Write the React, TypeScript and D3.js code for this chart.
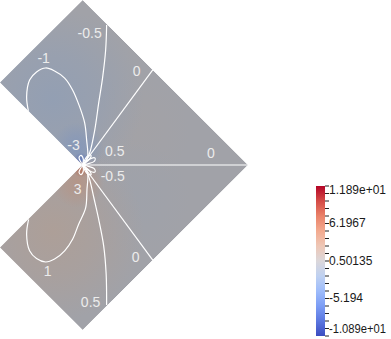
import React from 'react';
import * as d3 from 'd3';

// L-shaped domain, corner at (0,0), data units
const domainOutline: [number, number][] = [
  [0, 1], [1, 0], [0, -1], [-0.5, -0.5], [0, 0], [-0.5, 0.5],
];

// contour lines (data coords)
const zeroUpper: [number, number][] = [[0, 0], [0.424, 0.576]];
const zeroMiddle: [number, number][] = [[0, 0], [1, 0]];
const zeroLower: [number, number][] = [[0, 0], [0.424, -0.576]];
const negHalfUpper: [number, number][] = [
  [0.012, 0.012], [0.042, 0.073], [0.073, 0.212], [0.097, 0.376], [0.121, 0.533], [0.139, 0.697], [0.145, 0.848],
];
const posHalfLower: [number, number][] = [
  [0.012, -0.012], [0.04, -0.08], [0.068, -0.2], [0.097, -0.33], [0.127, -0.49], [0.142, -0.66], [0.145, -0.848],
];
const negOneLoop: [number, number][] = [
  [-0.327, 0.321], [-0.339, 0.412], [-0.321, 0.515], [-0.279, 0.564], [-0.224, 0.588], [-0.17, 0.57],
  [-0.109, 0.527], [-0.061, 0.455], [-0.018, 0.352], [0.012, 0.255], [0.024, 0.152], [0.03, 0.048], [0.01, 0.005],
];
const posOneLoop: [number, number][] = [
  [-0.327, -0.33], [-0.339, -0.42], [-0.321, -0.52], [-0.279, -0.567], [-0.224, -0.588], [-0.17, -0.57],
  [-0.109, -0.52], [-0.061, -0.45], [-0.025, -0.36], [0.018, -0.26], [0.026, -0.15], [0.03, -0.05], [0.01, -0.005],
];
const petalPosHalf: [number, number][] = [[0, 0], [0.04, 0.035], [0.075, 0.042], [0.07, 0.022], [0.03, 0.007], [0, 0]];
const petalNegHalf: [number, number][] = [[0, 0], [0.04, -0.035], [0.075, -0.042], [0.07, -0.022], [0.03, -0.007], [0, 0]];
const petalNegSteep: [number, number][] = [[0, 0], [0.025, 0.05], [0.05, 0.06], [0.045, 0.04], [0, 0]];
const petalPosSteep: [number, number][] = [[0, 0], [0.025, -0.05], [0.05, -0.06], [0.045, -0.04], [0, 0]];
const negThreeLoop: [number, number][] = [[0, 0], [-0.012, 0.02], [-0.022, 0.045], [-0.01, 0.058], [0.004, 0.035], [0, 0]];
const posThreeLoop: [number, number][] = [[0, 0], [-0.012, -0.02], [-0.022, -0.045], [-0.01, -0.058], [0.004, -0.035], [0, 0]];

const contourLines = [
  zeroUpper, zeroMiddle, zeroLower, negHalfUpper, posHalfLower, negOneLoop, posOneLoop,
  petalPosHalf, petalNegHalf, petalNegSteep, petalPosSteep, negThreeLoop, posThreeLoop,
];

const contourLabels = [
  { text: '-0.5', x: 0.042, y: 0.8 },
  { text: '-1', x: -0.236, y: 0.648 },
  { text: '0', x: 0.327, y: 0.57 },
  { text: '-3', x: -0.055, y: 0.121 },
  { text: '0.5', x: 0.194, y: 0.085 },
  { text: '0', x: 0.776, y: 0.073 },
  { text: '-0.5', x: 0.182, y: -0.067 },
  { text: '3', x: -0.03, y: -0.145 },
  { text: '0', x: 0.321, y: -0.558 },
  { text: '1', x: -0.212, y: -0.642 },
  { text: '0.5', x: 0.048, y: -0.83 },
];

// rough field samples (value around a spot)
const fieldSamples = [
  { x: 0.3, y: 0.2, value: 0.25, r: 0.35 },
  { x: 0.3, y: -0.2, value: -0.25, r: 0.35 },
  { x: -0.18, y: 0.4, value: -1.5, r: 0.55 },
  { x: -0.18, y: -0.4, value: 1.5, r: 0.55 },
  { x: -0.03, y: 0.1, value: -2.8, r: 0.16 },
  { x: -0.03, y: -0.1, value: 2.8, r: 0.16 },
  { x: -0.01, y: 0.025, value: -6, r: 0.05 },
  { x: -0.01, y: -0.025, value: 6, r: 0.05 },
];

const rangeMin = -10.89;
const rangeMax = 11.89;
const barTickValues = [11.89, 6.1967, 0.50135, -5.194, -10.89];
const barTickLabels = ['1.189e+01', '6.1967', '0.50135', '-5.194', '-1.089e+01'];

const coolWarm = ['#3b4cc0', '#6282ea', '#8db0fe', '#b8d0f9', '#dddddd', '#f5c4ad', '#f49a7b', '#de604d', '#b40426'];

export default function App() {
  const x = d3.scaleLinear().domain([-0.5, 1]).range([0, 248]);
  const y = d3.scaleLinear().domain([-1, 1]).range([330, 0]);
  const color = d3.scaleSequential(d3.interpolateRgbBasis(coolWarm)).domain([rangeMin, rangeMax]);
  const shade = (v: number) => {
    const c = d3.rgb(color(v));
    return d3.rgb(c.r * 0.755, c.g * 0.755, c.b * 0.75).formatHex();
  };

  const line = d3.line<[number, number]>().x(d => x(d[0])).y(d => y(d[1])).curve(d3.curveCatmullRom);
  const outline = d3.line<[number, number]>().x(d => x(d[0])).y(d => y(d[1]))(domainOutline) + 'Z';

  const barY = d3.scaleLinear().domain([rangeMin, rangeMax]).range([336, 186]);
  const minorTicks = d3.range(21).map(i => rangeMin + (i * (rangeMax - rangeMin)) / 20);
  const barStops = d3.range(11).map(i => i / 10);

  return (
    <svg width={391} height={339} style={{ position: 'absolute', left: 0, top: 0, background: '#fff' }}
      fontFamily="'Liberation Sans', Arial, sans-serif">
      <defs>
        <clipPath id="dom"><path d={outline} /></clipPath>
        {fieldSamples.map((s, i) => (
          <radialGradient key={i} id={`fs${i}`} gradientUnits="userSpaceOnUse"
            cx={x(s.x)} cy={y(s.y)} r={x(s.r) - x(0)}>
            <stop offset="0" stopColor={shade(s.value)} stopOpacity={1} />
            <stop offset="0.5" stopColor={shade(s.value)} stopOpacity={0.6} />
            <stop offset="1" stopColor={shade(s.value)} stopOpacity={0} />
          </radialGradient>
        ))}
        <linearGradient id="bar" x1="0" y1="1" x2="0" y2="0">
          {barStops.map(t => (
            <stop key={t} offset={t} stopColor={color(rangeMin + t * (rangeMax - rangeMin))} />
          ))}
        </linearGradient>
      </defs>

      <g clipPath="url(#dom)">
        <path d={outline} fill={shade(0)} />
        {fieldSamples.map((s, i) => (
          <circle key={i} cx={x(s.x)} cy={y(s.y)} r={x(s.r) - x(0)} fill={`url(#fs${i})`} />
        ))}
        {contourLines.map((pts, i) => (
          <path key={i} d={line(pts) || ''} fill="none" stroke="#fff" strokeWidth={1.2} />
        ))}
      </g>

      {contourLabels.map((l, i) => (
        <text key={i} x={x(l.x)} y={y(l.y)} textAnchor="middle" dominantBaseline="central"
          fontSize={14} fill="#ececec">{l.text}</text>
      ))}

      <rect x={316} y={186} width={9} height={150} fill="url(#bar)" />
      {minorTicks.map((v, i) => (
        <line key={i} x1={325} x2={329} y1={barY(v)} y2={barY(v)} stroke="#222" strokeWidth={1} />
      ))}
      {barTickValues.map((v, i) => (
        <text key={i} x={329} y={Math.min(Math.max(barY(v), 190), 329)} dominantBaseline="central"
          fontSize={12} textLength={barTickLabels[i].length > 8 ? 57 : undefined}
          lengthAdjust="spacingAndGlyphs" fill="#1a1a1a">
          {barTickLabels[i]}
        </text>
      ))}
    </svg>
  );
}
